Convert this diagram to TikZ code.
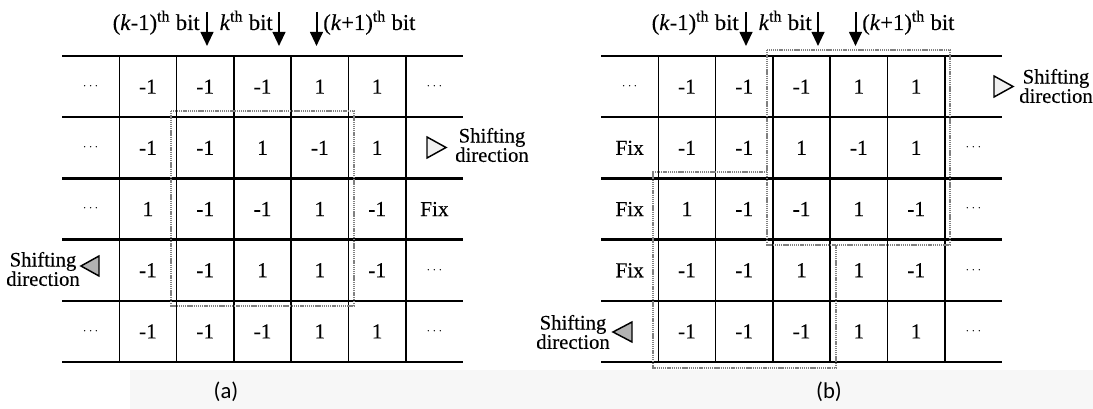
\documentclass[tikz,border=0pt]{standalone}
\usepackage{fontspec}
\setmainfont{Liberation Serif}[FakeBold=0.3]
\newfontfamily\capfont{Carlito}
\usetikzlibrary{arrows.meta}
\newcommand\dd{{\fontsize{10}{10}\selectfont$\cdots$}}
\begin{document}
\begin{tikzpicture}[x=0.75pt,y=-0.75pt,
  hline/.style={line width=1.7pt},
  vline/.style={line width=1.1pt},
  cell/.style={font=\fontsize{16}{18}\selectfont, inner sep=0pt},
  toplab/.style={font=\fontsize{17}{19}\selectfont, inner sep=0pt},
  bitarrow/.style={line width=1.5pt, -{Triangle[length=10.5pt,width=9.5pt]}},
  region/.style={draw=black!50, line width=1.5pt, dash pattern=on 1pt off 0.6pt},
  shiftlab/.style={font=\fontsize{15.5}{14.5}\selectfont, align=center, inner sep=0pt},
  tri/.style={draw=black, line width=1.1pt, line join=miter},
  sublab/.style={font=\capfont\fontsize{17}{19}\selectfont, inner sep=0pt}
]
\useasboundingbox (0,0) rectangle (1093,409);
\fill[white] (0,0) rectangle (1093,409);
\fill[black!3] (130,370) rectangle (1093,409);

% ---------- grids ----------
\foreach \ox in {0,539}{
  \foreach \yy in {56,117.2,178.4,239.6,300.8,362}
    \draw[hline] ({62+\ox},\yy) -- ({463.1+\ox},\yy);
  \foreach \i in {1,...,6}
    \draw[vline] ({62+\ox+57.3*\i},56) -- ({62+\ox+57.3*\i},362);
}

% ---------- cells (a) ----------
\foreach \row [count=\r] in {
  {\dd,-1,-1,-1,1,1,\dd},
  {\dd,-1,-1,1,-1,1,{}},
  {\dd,1,-1,-1,1,-1,Fix},
  {{},-1,-1,1,1,-1,\dd},
  {\dd,-1,-1,-1,1,1,\dd}}{
  \foreach \t [count=\c] in \row
    \node[cell] (a\r\c) at ({62+57.3*(\c-0.5)},{56+61.2*(\r-0.5)}) {\t};
}
% ---------- cells (b) ----------
\foreach \row [count=\r] in {
  {\dd,-1,-1,-1,1,1,{}},
  {Fix,-1,-1,1,-1,1,\dd},
  {Fix,1,-1,-1,1,-1,\dd},
  {Fix,-1,-1,1,1,-1,\dd},
  {{},-1,-1,-1,1,1,\dd}}{
  \foreach \t [count=\c] in \row
    \node[cell] (b\r\c) at ({601+57.3*(\c-0.5)},{56+61.2*(\r-0.5)}) {\t};
}

% ---------- dotted regions ----------
\draw[region] (171,111) rectangle (354,306);
\draw[region] (767,50) rectangle (950,245);
\draw[region] (767,172) -- (653,172) -- (653,368) -- (836,368) -- (836,245);

% ---------- top labels and arrows ----------
\foreach \ox/\p in {0/a,539/b}{
  \node[toplab, anchor=base east] (\p k1) at ({200+\ox},30) {(\textit{k}-1)\textsuperscript{th} bit};
  \node[toplab, anchor=base east] (\p k2) at ({273+\ox},30) {\textit{k}\textsuperscript{th} bit};
  \node[toplab, anchor=base west] (\p k3) at ({323+\ox},30) {(\textit{k}+1)\textsuperscript{th} bit};
  \coordinate (\p s1) at ({207+\ox},12);  \coordinate (\p e1) at ({207+\ox},46);
  \coordinate (\p s2) at ({279+\ox},12);  \coordinate (\p e2) at ({279+\ox},46);
  \coordinate (\p s3) at ({316.5+\ox},12);\coordinate (\p e3) at ({316.5+\ox},46);
  \draw[bitarrow] (\p s1) -- (\p e1);
  \draw[bitarrow] (\p s2) -- (\p e2);
  \draw[bitarrow] (\p s3) -- (\p e3);
}

% ---------- shifting direction ----------
\draw[tri, fill=black!6] (427,137) -- (446,147.5) -- (427,158) -- cycle;
\node[shiftlab, anchor=west] (sa1) at (455,145) {Shifting\\direction};
\draw[tri, fill=black!30] (99,256) -- (81,266) -- (99,276) -- cycle;
\node[shiftlab, anchor=east] (sa2) at (80,269) {Shifting\\direction};
\draw[tri, fill=black!6] (994,76) -- (1013,86.5) -- (994,97) -- cycle;
\node[shiftlab, anchor=west] (sb1) at (1019,86) {Shifting\\direction};
\draw[tri, fill=black!30] (632,322) -- (613,332) -- (632,342) -- cycle;
\node[shiftlab, anchor=east] (sb2) at (610,332) {Shifting\\direction};

% ---------- sub labels ----------
\node[sublab] (la) at (226,392) {(a)};
\node[sublab] (lb) at (829,392) {(b)};
\end{tikzpicture}
\end{document}
